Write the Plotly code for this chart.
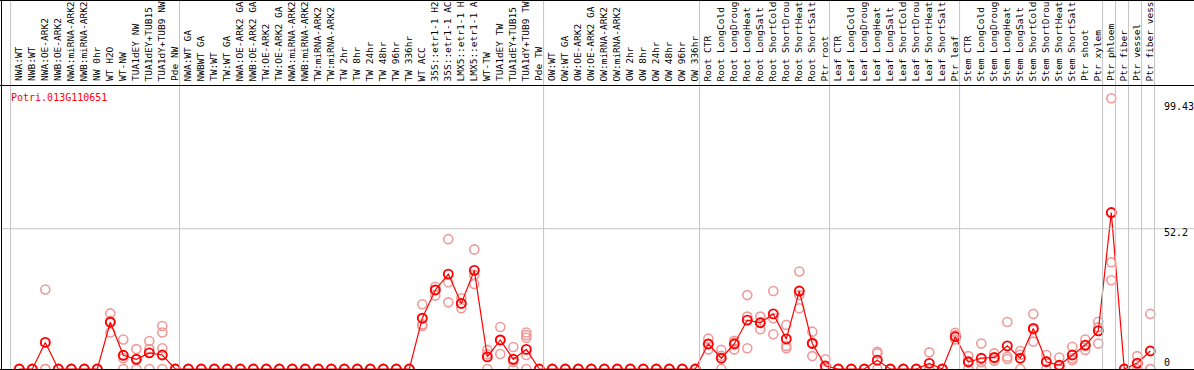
import plotly.graph_objects as go

W, H = 1194, 370

labels = [
    "NWA:WT", "NWB:WT", "NWA:OE-ARK2", "NWB:OE-ARK2", "NWA:miRNA-ARK2", "NWB:miRNA-ARK2",
    "NW 0hr", "WT H2O", "WT-NW", "TUA1dEY NW", "TUA1dEY+TUB15", "TUA1dY+TUB9 NW", "Pde NW",
    "NWA:WT GA", "NWBWT GA", "TW:WT", "TW:WT GA", "NWA:OE-ARK2 GA", "NWB:OE-ARK2 GA",
    "TW:OE-ARK2", "TW:OE-ARK2 GA", "NWA:miRNA-ARK2", "NWB:miRNA-ARK2", "TW:miRNA-ARK2",
    "TW:miRNA-ARK2", "TW 2hr", "TW 8hr", "TW 24hr", "TW 48hr", "TW 96hr", "TW 336hr",
    "WT ACC", "35S::etr1-1 H2", "35S::etr1-1 AC", "LMX5::etr1-1 H", "LMX5::etr1-1 A",
    "WT-TW", "TUA1dEY TW", "TUA1dEY+TUB15", "TUA1dY+TUB9 TW", "Pde TW",
    "OW:WT", "OW:WT GA", "OW:OE-ARK2", "OW:OE-ARK2 GA", "OW:miRNA-ARK2", "OW:miRNA-ARK2",
    "OW 2hr", "OW 8hr", "OW 24hr", "OW 48hr", "OW 96hr", "OW 336hr",
    "Root CTR", "Root LongCold", "Root LongDroug", "Root LongHeat", "Root LongSalt",
    "Root ShortCold", "Root ShortDrou", "Root ShortHeat", "Root ShortSalt", "Ptr root",
    "Leaf CTR", "Leaf LongCold", "Leaf LongDroug", "Leaf LongHeat", "Leaf LongSalt",
    "Leaf ShortCold", "Leaf ShortDrou", "Leaf ShortHeat", "Leaf ShortSalt", "Ptr leaf",
    "Stem CTR", "Stem LongCold", "Stem LongDroug", "Stem LongHeat", "Stem LongSalt",
    "Stem ShortCold", "Stem ShortDrou", "Stem ShortHeat", "Stem ShortSalt", "Ptr shoot",
    "Ptr xylem", "Ptr phloem", "Ptr fiber", "Ptr vessel", "Ptr fiber vess",
]

group_sizes = [13, 28, 12, 10, 10, 11, 1, 1, 1, 1]

means = [
    0, 0, 9.9, 0, 0, 0, 0, 17.4, 5.1, 3.6, 6.0, 5.2, 0,
    0, 0, 0, 0, 0, 0, 0, 0, 0, 0, 0, 0, 0, 0, 0, 0, 0, 0,
    18.9, 29.4, 35.3, 24.4, 36.7, 4.5, 10.8, 3.6, 7.3, 0,
    0, 0, 0, 0, 0, 0, 0, 0, 0, 0, 0, 0,
    9.3, 4.0, 9.3, 18.2, 17.2, 20.5, 11.2, 29.0, 9.5, 1.1,
    0, 0, 0, 3.3, 0, 0, 0, 2.1, 0, 12.0,
    2.6, 4.0, 4.3, 8.6, 4.0, 15.1, 2.7, 1.4, 5.2, 8.9, 14.2,
    58.2, 0, 2.2, 6.7,
]

Z = [0, 0]
replicates = [
    Z, Z, [29.6, 0, 0], Z, Z, Z, Z, [20.7, 17.9, 13.6], [11.0, 4.0, 0], [7.4, 3.6, 0],
    [10.4, 7.4, 0], [16.0, 13.6, 7.7, 0], Z,
    Z, Z, Z, Z, Z, Z, Z, Z, Z, Z, Z, Z, Z, Z, Z, Z, Z, Z,
    [24.1, 16.6, 16.0], [30.6, 29.4, 27.3], [48.3, 32.3, 24.8], [26.3, 22.6, 24.4],
    [44.5, 35.0, 31.6], [7.1, 5.5, 0], [15.6, 10.8, 5.6], [8.2, 2.6, 0],
    [13.6, 12.6, 11.6, 5.2, 0], Z,
    Z, Z, Z, Z, Z, Z, Z, Z, Z, Z, Z, Z,
    [11.3, 9.3, 7.3], [7.1, 4.9, 0], [10.5, 9.8, 7.3], [27.5, 19.5, 7.7], [19.5, 17.2, 14.8],
    [29.0, 18.9, 12.9], [16.4, 8.6, 7.7], [36.3, 27.5, 22.6], [13.9, 9.8, 4.8], [3.6, 0, 0],
    Z, Z, Z, [6.4, 5.8, 0], Z, Z, Z, [6.2, 0, 0], Z, [13.5, 11.0, 12.6],
    [4.8, 3.0, 0], [9.5, 2.5, 0], [5.8, 3.1, 4.0], [17.5, 4.6, 3.7], [6.7, 5.3, 0],
    [20.5, 14.6, 10.2], [5.2, 2.9, 0], [4.3, 0, 0], [8.3, 4.0, 3.3], [11.0, 8.6, 7.1],
    [17.6, 15.5, 9.5],
    [100.7, 39.7, 33.0], Z, [4.8, 1.8, 0], [20.5, 0, 0],
]

gene_id = "Potri.013G110651"
ytick_values = [99.43, 52.2, 0]
ytick_labels = ["99.43", "52.2", "0"]

# ---- geometry (pixel mapping) ----
COL = 13.0          # px per column
X0PX = 19.3         # px of first point
ZERO_PX = 369.0     # px of value 0
PX_PER_UNIT = 2.688


def xp(px):
    return px / W


def yp(py):
    return 1 - py / H


xs = list(range(len(labels)))
rep_x, rep_y = [], []
for i, reps in enumerate(replicates):
    for v in reps:
        rep_x.append(i)
        rep_y.append(v)

fig = go.Figure()
fig.add_trace(go.Scatter(
    x=rep_x, y=rep_y, mode="markers",
    marker=dict(symbol="circle-open", size=9, color="#ef9a9a", line=dict(width=1.6, color="#ee9494")),
    hoverinfo="skip", showlegend=False,
))
fig.add_trace(go.Scatter(
    x=xs, y=means, mode="lines+markers",
    line=dict(color="#ff0000", width=1.2),
    marker=dict(symbol="circle-open", size=9, color="#ff0000", line=dict(width=1.9, color="#ff0000")),
    showlegend=False,
))

shapes = []
# vertical group gridlines
bounds = [0]
for g in group_sizes:
    bounds.append(bounds[-1] + g)
for b in bounds:
    shapes.append(dict(type="line", xref="x", yref="paper", x0=b - 0.67, x1=b - 0.67,
                       y0=0, y1=1, line=dict(color="#c4c4c4", width=1)))
# horizontal gridline at middle tick
shapes.append(dict(type="line", xref="paper", yref="y", x0=xp(1), x1=1,
                   y0=ytick_values[1], y1=ytick_values[1], line=dict(color="#c4c4c4", width=1)))
# black frame lines
for py in (0.5, 85.5, 369.5):
    shapes.append(dict(type="line", xref="paper", yref="paper", x0=0, x1=1,
                       y0=yp(py), y1=yp(py), line=dict(color="black", width=1)))
shapes.append(dict(type="line", xref="paper", yref="paper", x0=xp(1.5), x1=xp(1.5),
                   y0=0, y1=1, line=dict(color="black", width=1)))

annotations = []
for i, lab in enumerate(labels):
    annotations.append(dict(
        x=i - 0.1, y=yp(83.5), xref="x", yref="paper", text=lab, textangle=-90,
        showarrow=False, xanchor="center", yanchor="bottom",
        font=dict(family="DejaVu Sans Mono", size=9.5, color="black"),
    ))
annotations.append(dict(
    x=xp(9), y=yp(97), xref="paper", yref="paper", text=gene_id, showarrow=False,
    xanchor="left", yanchor="middle", font=dict(family="DejaVu Sans Mono", size=10, color="#ff0000"),
))
tick_px = [107, 232, 362]
for lab, py in zip(ytick_labels, tick_px):
    annotations.append(dict(
        x=xp(1162), y=yp(py), xref="paper", yref="paper", text=lab, showarrow=False,
        xanchor="left", yanchor="middle", font=dict(family="DejaVu Sans Mono", size=10, color="black"),
    ))

x_lo = -X0PX / COL
x_hi = x_lo + W / COL
y_lo = (ZERO_PX - H) / PX_PER_UNIT
y_hi = ZERO_PX / PX_PER_UNIT

fig.update_layout(
    width=W, height=H, autosize=False,
    margin=dict(l=0, r=0, t=0, b=0, pad=0),
    paper_bgcolor="white", plot_bgcolor="white",
    xaxis=dict(range=[x_lo, x_hi], visible=False, domain=[0, 1], fixedrange=True),
    yaxis=dict(range=[y_lo, y_hi], visible=False, domain=[0, 1], fixedrange=True),
    shapes=shapes, annotations=annotations,
)

fig.write_html("out.html", config={"displayModeBar": False},
               post_script="document.body.style.margin='0';document.body.style.overflow='hidden';")
